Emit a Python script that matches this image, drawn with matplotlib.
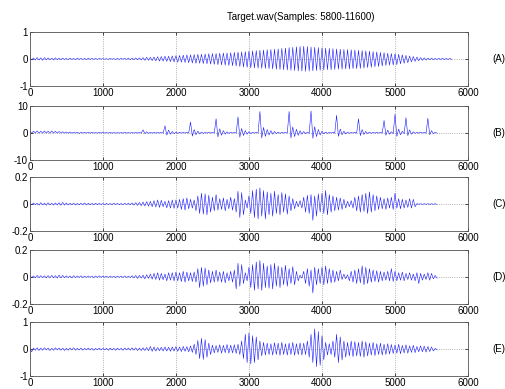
import numpy as np
import matplotlib
matplotlib.use('Agg')
from matplotlib import pyplot as plt

# peak values, one upper peak every 50 samples
# and one lower peak between each pair of upper peaks
step = 50

a_upper = [0.04, 0.03, 0.05, 0.04, 0.05, 0.04, 0.03, 0.04, 0.03, 0.03, 0.02, 0.03, 0.02, 0.03, 0.02, 0.02, 0.03, 0.02, 0.02, 0.02,
           0.01, 0.01, 0.02, 0.01, 0.02, 0.02, 0.02, 0.03, 0.03, 0.04, 0.04, 0.05, 0.06, 0.06, 0.07, 0.08, 0.09, 0.10, 0.10, 0.11,
           0.12, 0.13, 0.14, 0.15, 0.15, 0.16, 0.17, 0.17, 0.18, 0.19, 0.20, 0.20, 0.21, 0.22, 0.22, 0.23, 0.24, 0.25, 0.26, 0.27,
           0.29, 0.30, 0.31, 0.32, 0.33, 0.34, 0.35, 0.36, 0.37, 0.39, 0.40, 0.42, 0.43, 0.45, 0.46, 0.47, 0.46, 0.44, 0.43, 0.42,
           0.41, 0.40, 0.39, 0.38, 0.37, 0.36, 0.35, 0.35, 0.34, 0.33, 0.32, 0.31, 0.30, 0.29, 0.27, 0.26, 0.24, 0.23, 0.21, 0.20,
           0.19, 0.17, 0.15, 0.13, 0.11, 0.09, 0.07, 0.05, 0.04, 0.03, 0.03, 0.02, 0.02, 0.02, 0.02, 0.02]
a_lower = [-0.03, -0.04, -0.04, -0.05, -0.04, -0.03, -0.04, -0.03, -0.03, -0.02, -0.03, -0.02, -0.03, -0.02, -0.02, -0.03, -0.02, -0.02, -0.02, -0.01,
           -0.01, -0.02, -0.01, -0.02, -0.02, -0.01, -0.02, -0.03, -0.03, -0.03, -0.04, -0.05, -0.05, -0.06, -0.07, -0.08, -0.08, -0.09, -0.10, -0.11,
           -0.12, -0.12, -0.13, -0.14, -0.15, -0.16, -0.16, -0.17, -0.18, -0.19, -0.20, -0.21, -0.22, -0.23, -0.24, -0.25, -0.26, -0.28, -0.30, -0.31,
           -0.33, -0.33, -0.34, -0.35, -0.35, -0.36, -0.37, -0.38, -0.39, -0.40, -0.41, -0.42, -0.43, -0.44, -0.45, -0.46, -0.45, -0.44, -0.43, -0.42,
           -0.41, -0.40, -0.40, -0.39, -0.38, -0.38, -0.37, -0.37, -0.36, -0.36, -0.35, -0.34, -0.32, -0.31, -0.29, -0.28, -0.26, -0.24, -0.23, -0.22,
           -0.21, -0.18, -0.16, -0.14, -0.11, -0.09, -0.07, -0.05, -0.04, -0.03, -0.03, -0.02, -0.02, -0.02, -0.02, -0.02]

b_upper = [0.3, 0.6, 0.7, 0.6, 0.7, 0.6, 0.7, 0.6, 0.5, 0.4, 0.3, 0.3, 0.2, 0.2, 0.2, 0.2, 0.2, 0.2, 0.1, 0.2,
           0.2, 0.1, 0.2, 0.1, 0.1, 0.1, 0.2, 0.1, 0.1, 0.2, 0.2, 1.1, 0.4, 0.2, 0.2, 0.2, 0.2, 2.6, 1.0, 0.5,
           0.3, 0.2, 0.2, 0.2, 4.0, 1.2, 0.6, 0.3, 0.2, 0.2, 0.2, 5.2, 1.5, 0.8, 0.4, 0.2, 0.2, 5.9, 1.6, 0.8,
           0.4, 0.2, 0.2, 7.9, 2.0, 1.2, 0.8, 0.5, 0.3, 0.2, 0.2, 7.9, 2.2, 1.3, 0.8, 0.5, 0.3, 8.1, 2.3, 1.2,
           0.6, 0.3, 0.2, 0.2, 6.5, 1.4, 0.6, 0.3, 0.2, 0.2, 5.2, 1.2, 0.5, 0.3, 0.2, 0.2, 0.2, 4.6, 1.0, 0.4,
           6.9, 1.4, 0.6, 5.6, 1.1, 0.4, 0.2, 0.2, 0.2, 5.4, 0.8, 0.2]
b_lower = [-0.1, -0.1, -0.1, -0.1, -0.1, -0.1, -0.1, -0.1, -0.1, -0.1, -0.1, -0.1, -0.1, -0.2, -0.1, -0.1, -0.1, -0.1, -0.1, -0.1,
           -0.1, -0.1, -0.1, -0.1, -0.1, -0.1, -0.1, -0.1, -0.1, -0.1, -0.1, -0.3, -0.2, -0.1, -0.1, -0.1, -0.1, -0.8, -0.5, -0.3,
           -0.2, -0.1, -0.1, -0.1, -1.2, -0.7, -0.4, -0.2, -0.1, -0.1, -0.1, -1.5, -0.9, -0.5, -0.2, -0.1, -0.1, -1.6, -1.0, -0.5,
           -0.3, -0.1, -0.1, -1.9, -1.3, -0.8, -0.5, -0.3, -0.2, -0.1, -0.1, -1.9, -1.4, -0.9, -0.5, -0.3, -0.2, -2.0, -1.4, -0.8,
           -0.4, -0.2, -0.1, -0.1, -1.3, -0.7, -0.4, -0.2, -0.1, -0.1, -1.0, -0.6, -0.3, -0.2, -0.1, -0.1, -0.1, -0.9, -0.5, -0.3,
           -1.3, -0.7, -0.3, -1.0, -0.5, -0.2, -0.1, -0.1, -0.1, -0.7, -0.3, -0.1]

c_upper = [0.005, 0.008, 0.006, 0.01, 0.007, 0.009, 0.006, 0.008, 0.01, 0.012, 0.008, 0.006, 0.007, 0.005, 0.006, 0.008, 0.006, 0.005, 0.006, 0.005,
           0.004, 0.005, 0.004, 0.006, 0.005, 0.004, 0.005, 0.006, 0.008, 0.01, 0.012, 0.015, 0.018, 0.02, 0.025, 0.03, 0.028, 0.02, 0.025, 0.03,
           0.03, 0.035, 0.04, 0.045, 0.035, 0.03, 0.06, 0.08, 0.075, 0.065, 0.05, 0.07, 0.04, 0.045, 0.035, 0.05, 0.04, 0.095, 0.085, 0.03,
           0.06, 0.1, 0.11, 0.12, 0.1, 0.09, 0.08, 0.095, 0.07, 0.085, 0.075, 0.06, 0.04, 0.02, 0.025, 0.05, 0.065, 0.07, 0.06, 0.075,
           0.08, 0.1, 0.07, 0.06, 0.05, 0.045, 0.035, 0.02, 0.025, 0.05, 0.06, 0.07, 0.08, 0.09, 0.07, 0.06, 0.05, 0.04, 0.045, 0.05,
           0.08, 0.04, 0.035, 0.03, 0.04, 0.035, 0.003, 0.002, 0.002, 0.002, 0.002, 0.002]
c_lower = [-0.006, -0.005, -0.008, -0.007, -0.009, -0.006, -0.008, -0.007, -0.009, -0.008, -0.007, -0.006, -0.008, -0.006, -0.005, -0.007, -0.006, -0.005, -0.005, -0.004,
           -0.005, -0.004, -0.005, -0.004, -0.005, -0.005, -0.004, -0.006, -0.008, -0.01, -0.012, -0.014, -0.016, -0.02, -0.022, -0.025, -0.02, -0.028, -0.03, -0.032,
           -0.03, -0.04, -0.045, -0.035, -0.03, -0.05, -0.07, -0.075, -0.08, -0.06, -0.05, -0.045, -0.04, -0.05, -0.035, -0.045, -0.06, -0.1, -0.08, -0.03,
           -0.07, -0.1, -0.11, -0.09, -0.11, -0.08, -0.09, -0.07, -0.08, -0.06, -0.075, -0.05, -0.035, -0.02, -0.03, -0.06, -0.07, -0.12, -0.09, -0.06,
           -0.07, -0.08, -0.06, -0.05, -0.045, -0.04, -0.03, -0.02, -0.03, -0.05, -0.06, -0.055, -0.07, -0.06, -0.05, -0.04, -0.035, -0.04, -0.03, -0.04,
           -0.03, -0.035, -0.03, -0.025, -0.03, -0.02, -0.002, -0.002, -0.002, -0.002, -0.002, -0.002]

d_upper = [0.008, 0.006, 0.01, 0.008, 0.007, 0.009, 0.01, 0.008, 0.012, 0.01, 0.007, 0.006, 0.008, 0.006, 0.007, 0.005, 0.006, 0.005, 0.006, 0.007,
           0.005, 0.004, 0.005, 0.004, 0.005, 0.004, 0.006, 0.005, 0.008, 0.01, 0.01, 0.012, 0.015, 0.02, 0.025, 0.03, 0.025, 0.02, 0.03, 0.03,
           0.035, 0.03, 0.04, 0.035, 0.03, 0.035, 0.06, 0.07, 0.065, 0.05, 0.04, 0.05, 0.035, 0.04, 0.03, 0.04, 0.05, 0.1, 0.09, 0.03,
           0.07, 0.09, 0.11, 0.12, 0.1, 0.08, 0.09, 0.1, 0.08, 0.07, 0.085, 0.06, 0.075, 0.04, 0.012, 0.04, 0.06, 0.05, 0.07, 0.06,
           0.07, 0.08, 0.06, 0.05, 0.04, 0.05, 0.02, 0.015, 0.04, 0.05, 0.06, 0.08, 0.07, 0.06, 0.05, 0.045, 0.04, 0.035, 0.04, 0.06,
           0.04, 0.03, 0.035, 0.025, 0.03, 0.02, 0.03, 0.025, 0.02, 0.03, 0.025, 0.01]
d_lower = [-0.006, -0.008, -0.007, -0.006, -0.009, -0.007, -0.008, -0.01, -0.008, -0.007, -0.006, -0.008, -0.006, -0.005, -0.006, -0.005, -0.004, -0.006, -0.005, -0.004,
           -0.004, -0.005, -0.004, -0.005, -0.004, -0.005, -0.005, -0.006, -0.008, -0.012, -0.01, -0.015, -0.012, -0.018, -0.02, -0.025, -0.022, -0.03, -0.025, -0.03,
           -0.03, -0.035, -0.04, -0.03, -0.035, -0.04, -0.08, -0.07, -0.06, -0.045, -0.04, -0.035, -0.04, -0.045, -0.03, -0.04, -0.09, -0.07, -0.05, -0.03,
           -0.08, -0.1, -0.09, -0.1, -0.08, -0.085, -0.09, -0.07, -0.08, -0.06, -0.07, -0.05, -0.06, -0.03, -0.01, -0.05, -0.07, -0.12, -0.06, -0.05,
           -0.06, -0.05, -0.045, -0.04, -0.03, -0.02, -0.015, -0.03, -0.04, -0.05, -0.045, -0.06, -0.05, -0.04, -0.035, -0.04, -0.03, -0.025, -0.03, -0.035,
           -0.03, -0.025, -0.03, -0.02, -0.025, -0.03, -0.05, -0.025, -0.02, -0.025, -0.015, -0.01]

e_upper = [0.03, 0.04, 0.05, 0.04, 0.05, 0.04, 0.03, 0.05, 0.04, 0.04, 0.03, 0.04, 0.05, 0.03, 0.04, 0.03, 0.04, 0.03, 0.03, 0.04,
           0.03, 0.03, 0.04, 0.03, 0.04, 0.03, 0.04, 0.04, 0.05, 0.05, 0.04, 0.05, 0.06, 0.1, 0.08, 0.06, 0.07, 0.08, 0.07, 0.08,
           0.09, 0.08, 0.1, 0.09, 0.12, 0.18, 0.32, 0.4, 0.35, 0.22, 0.15, 0.13, 0.16, 0.14, 0.17, 0.15, 0.16, 0.18, 0.3, 0.55,
           0.6, 0.5, 0.45, 0.3, 0.25, 0.22, 0.2, 0.24, 0.22, 0.25, 0.2, 0.22, 0.25, 0.2, 0.23, 0.22, 0.3, 0.55, 0.75, 0.65,
           0.5, 0.25, 0.2, 0.3, 0.55, 0.45, 0.3, 0.25, 0.3, 0.28, 0.25, 0.3, 0.27, 0.22, 0.25, 0.2, 0.22, 0.18, 0.2, 0.17,
           0.15, 0.18, 0.14, 0.16, 0.12, 0.14, 0.1, 0.12, 0.11, 0.1, 0.08, 0.03]
e_lower = [-0.1, -0.04, -0.05, -0.04, -0.03, -0.05, -0.04, -0.03, -0.04, -0.05, -0.04, -0.03, -0.04, -0.03, -0.04, -0.03, -0.03, -0.04, -0.03, -0.03,
           -0.03, -0.04, -0.03, -0.04, -0.03, -0.04, -0.03, -0.04, -0.04, -0.05, -0.05, -0.05, -0.06, -0.08, -0.07, -0.06, -0.07, -0.07, -0.08, -0.07,
           -0.08, -0.09, -0.08, -0.1, -0.12, -0.2, -0.35, -0.38, -0.3, -0.2, -0.14, -0.12, -0.15, -0.13, -0.15, -0.14, -0.16, -0.2, -0.35, -0.5,
           -0.55, -0.5, -0.4, -0.25, -0.22, -0.2, -0.22, -0.2, -0.23, -0.2, -0.22, -0.2, -0.23, -0.2, -0.22, -0.2, -0.3, -0.5, -0.65, -0.6,
           -0.4, -0.22, -0.2, -0.3, -0.5, -0.4, -0.3, -0.25, -0.28, -0.25, -0.27, -0.3, -0.25, -0.22, -0.24, -0.2, -0.22, -0.2, -0.18, -0.16,
           -0.15, -0.17, -0.14, -0.15, -0.12, -0.13, -0.1, -0.1, -0.11, -0.09, -0.07, -0.03]

panels = [
    ('(A)', a_upper, a_lower, 1),
    ('(B)', b_upper, b_lower, 10),
    ('(C)', c_upper, c_lower, 0.2),
    ('(D)', d_upper, d_lower, 0.2),
    ('(E)', e_upper, e_lower, 1),
]
xticks = [0, 1000, 2000, 3000, 4000, 5000, 6000]
title = 'Target.wav(Samples: 5800-11600)'

plt.rcParams['font.family'] = 'Liberation Sans'
plt.rcParams['font.size'] = 7

fig = plt.figure(figsize=(5.06, 3.89), dpi=100)
bottoms = [0.779, 0.589, 0.406, 0.219, 0.033]

for i in range(5):
    name, up, lo, lim = panels[i]
    ax = fig.add_axes([0.059, bottoms[i], 0.866, 0.139])
    x = np.arange(len(up)) * step
    xs = np.column_stack([x, x + step / 2]).ravel()
    ys = np.column_stack([up, lo]).ravel()
    ax.plot(xs, ys, color='#1a1aff', lw=0.4)
    ax.set_xlim(0, 6000)
    ax.set_ylim(-lim, lim)
    ax.set_xticks(xticks)
    ax.set_yticks([-lim, 0, lim])
    ax.set_yticklabels(['%g' % -lim, '0', '%g' % lim])
    ax.grid(True, linestyle=':', color='#999999', lw=0.6)
    ax.tick_params(direction='in', length=2, width=0.5, pad=1.5,
                   top=True, right=True)
    for s in ax.spines.values():
        s.set_linewidth(0.6)
        s.set_color('#555555')
    ax.text(1.07, 0.5, name, transform=ax.transAxes, ha='center', va='center')

fig.text(0.595, 0.956, title, ha='center', va='center')

fig.savefig('out.png', dpi=100)
